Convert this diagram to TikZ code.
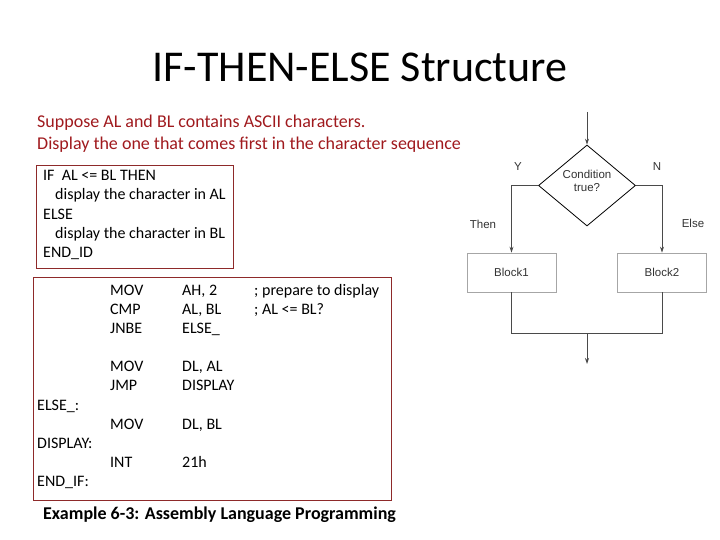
\documentclass[tikz,border=0pt]{standalone}
\usepackage{fontspec}
\setmainfont{Carlito}
\newfontfamily\arialf{Liberation Sans}
\usetikzlibrary{shapes.geometric,arrows.meta}
\definecolor{darkred}{HTML}{A01A1E}
\definecolor{boxred}{HTML}{8E2A2A}
\definecolor{flowgray}{HTML}{4A4A4A}
\definecolor{flowtext}{HTML}{333333}
\begin{document}
\begin{tikzpicture}[x=1pt,y=-1pt,
  txt/.style={inner sep=0pt,anchor=base west,font=\fontsize{16}{18}\selectfont},
  redtxt/.style={inner sep=0pt,anchor=base west,text=darkred,font=\fontsize{18}{20}\selectfont},
  codebox/.style={draw=boxred,line width=0.9pt},
  fl/.style={draw=flowgray,line width=0.8pt},
  flarrow/.style={fl,-{Stealth[length=6pt,width=4pt]}},
  fltxt/.style={inner sep=0pt,font=\arialf\fontsize{11.5}{13}\selectfont,text=flowtext},
  blockbox/.style={draw=gray!70,line width=0.8pt,minimum width=89pt,minimum height=39pt,inner sep=0pt,font=\arialf\fontsize{11.5}{13}\selectfont,text=flowtext}]
\useasboundingbox[fill=white] (0,0) rectangle (720,540);
% title
\node[inner sep=0pt,anchor=base,font=\fontsize{44}{48}\selectfont] (title) at (360,82) {IF-THEN-ELSE Structure};
\node[redtxt] (l1) at (37,128) {Suppose AL and BL contains ASCII characters.};
\node[redtxt] (l2) at (37,150) {Display the one that comes first in the character sequence};
% box 1
\draw[codebox] (36,165) rectangle (233,268);
\node[txt] (p1) at (43,181) {IF\ \ AL <= BL THEN};
\node[txt] (p2) at (55,200) {display the character in AL};
\node[txt] (p3) at (43,219) {ELSE};
\node[txt] (p4) at (55,238) {display the character in BL};
\node[txt] (p5) at (43,257) {END\_ID};
% box 2
\draw[codebox] (33,277) rectangle (391,500);
\node[txt] (a1) at (110,295) {MOV};
\node[txt] (b1) at (182,295) {AH, 2};
\node[txt] (c1) at (254,295) {; prepare to display};
\node[txt] (a2) at (110,314) {CMP};
\node[txt] (b2) at (182,314) {AL, BL};
\node[txt] (c2) at (254,314) {; AL <= BL?};
\node[txt] (a3) at (110,333) {JNBE};
\node[txt] (b3) at (182,333) {ELSE\_};
\node[txt] (a4) at (110,371) {MOV};
\node[txt] (b4) at (182,371) {DL, AL};
\node[txt] (a5) at (110,390) {JMP};
\node[txt] (b5) at (182,390) {DISPLAY};
\node[txt] (e1) at (37,410) {ELSE\_:};
\node[txt] (a6) at (110,429) {MOV};
\node[txt] (b6) at (182,429) {DL, BL};
\node[txt] (e2) at (37,448) {DISPLAY:};
\node[txt] (a7) at (110,467) {INT};
\node[txt] (b7) at (182,467) {21h};
\node[txt] (e3) at (37,486) {END\_IF:};
\node[inner sep=0pt,anchor=base west,font=\bfseries\fontsize{18}{20}\selectfont] (cap) at (43,519) {Example 6-3: Assembly Language Programming};
% flowchart
\coordinate (start) at (587,112);
\node[diamond,draw=black,line width=0.8pt,minimum width=97pt,minimum height=81pt,inner sep=0pt] (cond) at (587,185.5) {};
\node[fltxt,align=center] (condt) at (587,181) {Condition\\true?};
\node[blockbox] (b1box) at (511.5,272.5) {Block1};
\node[blockbox] (b2box) at (662,272.5) {Block2};
\coordinate (jl) at (511.5,333);
\coordinate (jr) at (662,333);
\coordinate (jm) at (587,333);
\coordinate (endp) at (587,364);
\draw[flarrow] (start) -- (cond.north);
\draw[flarrow] (cond.west) -| (b1box.north);
\draw[flarrow] (cond.east) -| (b2box.north);
\draw[fl] (b1box.south) -- (jl) -- (jr) -- (b2box.south);
\draw[flarrow] (jm) -- (endp);
\node[fltxt] (ylab) at (518,167) {Y};
\node[fltxt] (nlab) at (657,167) {N};
\node[fltxt] (then) at (483,224) {Then};
\node[fltxt] (else) at (693,223) {Else};
\end{tikzpicture}
\end{document}
